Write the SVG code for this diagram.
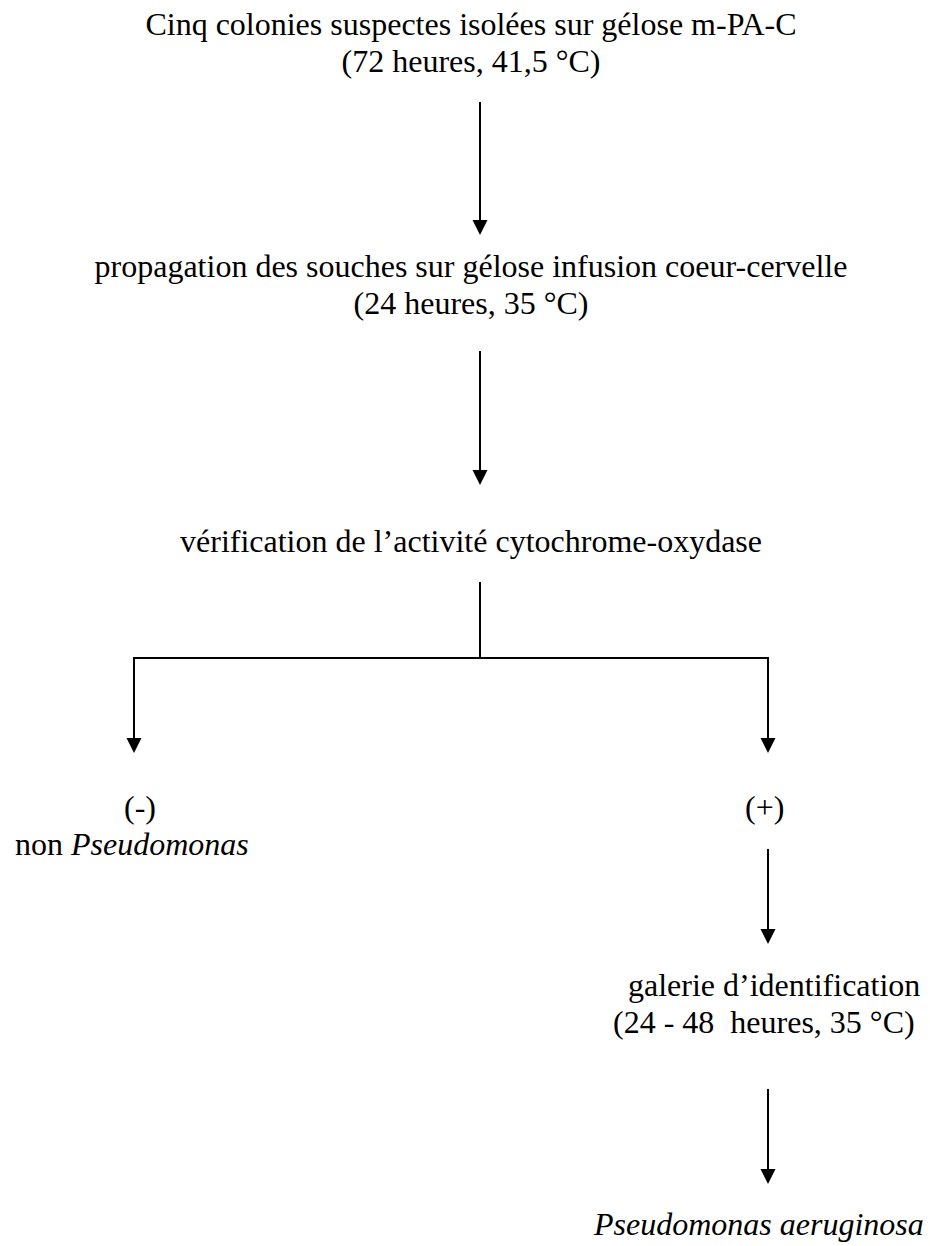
<svg xmlns="http://www.w3.org/2000/svg" width="930" height="1246" viewBox="0 0 930 1246">
<style>
text{font-family:"Liberation Serif","Times New Roman",serif;font-size:32px;fill:#000;white-space:pre}
.c{text-anchor:middle}
.i{font-style:italic}
.ln{stroke:#000;stroke-width:2;fill:none}
</style>
<defs>
<marker id="ah" markerUnits="userSpaceOnUse" markerWidth="16" markerHeight="16" refX="7.5" refY="15" orient="auto-start-reverse" viewBox="0 0 15 15">
<path d="M0,0 L15,0 L7.5,15 Z" fill="#000"/>
</marker>
</defs>
<rect width="930" height="1246" fill="#fff"/>
<g id="n1">
<text class="c" x="471" y="35">Cinq colonies suspectes isolées sur gélose m-PA-C</text>
<text class="c" x="471" y="72">(72 heures, 41,5 °C)</text>
</g>
<g id="n2">
<text class="c" x="471" y="277">propagation des souches sur gélose infusion coeur-cervelle</text>
<text class="c" x="471" y="314">(24 heures, 35 °C)</text>
</g>
<g id="n3">
<text class="c" x="471" y="552">vérification de l’activité cytochrome-oxydase</text>
</g>
<g id="n4">
<text x="124" y="818">(-)</text>
<text x="15" y="855">non <tspan class="i">Pseudomonas</tspan></text>
</g>
<g id="n5">
<text x="745" y="818">(+)</text>
</g>
<g id="n6">
<text x="628" y="996">galerie d’identification</text>
<text x="613" y="1033">(24 - 48  heures, 35 °C)</text>
</g>
<g id="n7">
<text class="i" x="594" y="1235">Pseudomonas aeruginosa</text>
</g>
<g id="connectors">
<line class="ln" x1="480" y1="102" x2="480" y2="222"/>
<path d="M472.5,220 L487.5,220 L480,235 Z"/>
<line class="ln" x1="480" y1="351" x2="480" y2="472"/>
<path d="M472.5,470 L487.5,470 L480,485 Z"/>
<polyline class="ln" points="480,582 480,658"/>
<polyline class="ln" points="134,740 134,658 768,658 768,740"/>
<path d="M126.5,738 L141.5,738 L134,753 Z"/>
<path d="M760.5,738 L775.5,738 L768,753 Z"/>
<line class="ln" x1="768" y1="849" x2="768" y2="931"/>
<path d="M760.5,929 L775.5,929 L768,944 Z"/>
<line class="ln" x1="768" y1="1089" x2="768" y2="1171"/>
<path d="M760.5,1169 L775.5,1169 L768,1184 Z"/>
</g>
</svg>
